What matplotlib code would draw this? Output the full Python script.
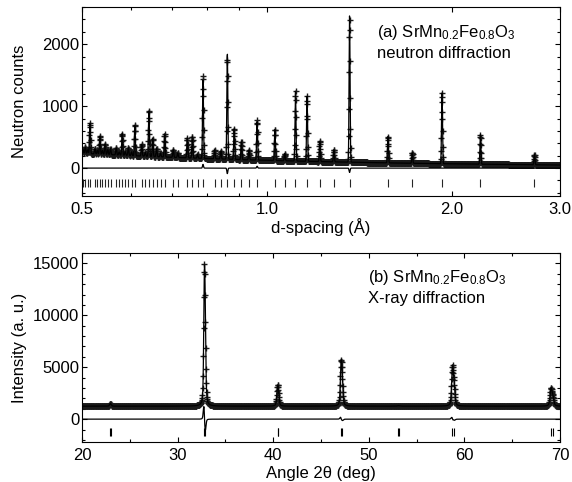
import numpy as np
import matplotlib
matplotlib.use('Agg')
import matplotlib.pyplot as plt
from matplotlib.ticker import FixedLocator, NullFormatter, MultipleLocator

plt.rcParams['font.family'] = ['Liberation Sans', 'DejaVu Sans']
plt.rcParams['mathtext.default'] = 'regular'
plt.rcParams['font.size'] = 12

# (a) neutron: reflection d-spacings (A) and peak heights above background
n_d = [2.7259, 2.2257, 1.9275, 1.7240, 1.5738, 1.3630, 1.2850, 1.2191, 1.1623, 1.1129,
       1.0692, 1.0303, 0.9638, 0.9350, 0.9086, 0.8844, 0.8620, 0.8412, 0.8219, 0.7869,
       0.7710, 0.7560, 0.7419, 0.7159, 0.7038, 0.6815, 0.6711, 0.6611, 0.6516, 0.6425,
       0.6338, 0.6254, 0.6095, 0.6020, 0.5948, 0.5879, 0.5812, 0.5747, 0.5684, 0.5564,
       0.5507, 0.5452, 0.5398, 0.5346, 0.5295, 0.5246, 0.5151, 0.5106, 0.5062, 0.5019]
n_h = [165, 475, 1145, 170, 425, 2365, 200, 330, 1050, 1130,
       115, 510, 620, 160, 290, 500, 1720, 130, 145, 1275,
       60, 350, 320, 70, 125, 370, 60, 130, 290, 740,
       60, 190, 500, 60, 125, 60, 350, 50, 115, 100,
       80, 170, 60, 295, 60, 80, 490, 60, 100, 60]
n_bg0, n_bg1 = 12, 114          # background = bg0 + bg1 / d
n_width = 0.0018                # peak sigma as fraction of d
n_miss_d = [0.7869, 0.8620, 1.3630, 0.9638]
n_miss_amp = [60, -90, -70, 30]
n_tick_y = -240

# (b) X-ray: K-alpha1 / K-alpha2 positions (deg 2theta), heights, widths
x_pos1 = [22.95, 32.80, 40.45, 47.10, 53.05, 58.75, 69.05]
x_pos2 = [23.01, 32.88, 40.55, 47.22, 53.19, 58.91, 69.25]
x_h = [180, 10500, 1620, 3750, 35, 3500, 1650]
x_fwhm = [0.18, 0.17, 0.19, 0.19, 0.20, 0.21, 0.23]
x_shift = [0, -0.012, 0, -0.006, 0, -0.007, 0]
ka2_ratio = 0.5
x_bg = 1250
x_tick_y = -1250


def pvoigt(x, x0, fwhm, eta=0.4):
    g = np.exp(-4 * np.log(2) * ((x - x0) / fwhm) ** 2)
    l = 1 / (1 + 4 * ((x - x0) / fwhm) ** 2)
    return eta * l + (1 - eta) * g


# neutron profile
d = np.geomspace(0.5, 3.0, 2240)
n_calc = n_bg0 + n_bg1 / d
for d0, h in zip(n_d, n_h):
    n_calc = n_calc + h * np.exp(-0.5 * ((d - d0) / (n_width * d0)) ** 2)
n_diff = np.zeros_like(d)
for d0, a in zip(n_miss_d, n_miss_amp):
    n_diff = n_diff + a * np.exp(-0.5 * ((d - d0) / (n_width * d0)) ** 2)
n_obs = n_calc + n_diff

# x-ray profile
tt = np.arange(20, 70.001, 0.03)
x_calc = np.full_like(tt, x_bg, dtype=float)
x_obs = np.full_like(tt, x_bg, dtype=float)
for p1, p2, h, w, s in zip(x_pos1, x_pos2, x_h, x_fwhm, x_shift):
    x_calc += h * pvoigt(tt, p1, w) + ka2_ratio * h * pvoigt(tt, p2, w)
    x_obs += h * pvoigt(tt, p1 + s, w) + ka2_ratio * h * pvoigt(tt, p2 + s, w)
x_diff = x_obs - x_calc

fig = plt.figure(figsize=(5.72, 4.82), dpi=100)
ax1 = fig.add_axes([0.1434, 0.5934, 0.8357, 0.3921])
ax2 = fig.add_axes([0.1434, 0.083, 0.8357, 0.3921])

# panel (a)
ax1.plot(d, n_obs, '+', color='0.1', ms=4.6, mew=1.0)
ax1.plot(d, n_calc, '-', color='k', lw=0.9)
ax1.plot(d, n_diff, '-', color='k', lw=0.9)
ax1.plot(n_d, [n_tick_y] * len(n_d), '|', color='0.15', ms=5.5, mew=0.8)
ax1.set_xscale('log')
ax1.set_xlim(0.5, 3.0)
ax1.set_ylim(-450, 2600)
ax1.xaxis.set_major_locator(FixedLocator([0.5, 1.0, 2.0, 3.0]))
ax1.xaxis.set_minor_locator(FixedLocator([0.6, 0.7, 0.8, 0.9]))
ax1.set_xticklabels(['0.5', '1.0', '2.0', '3.0'])
ax1.xaxis.set_minor_formatter(NullFormatter())
ax1.yaxis.set_major_locator(FixedLocator([0, 1000, 2000]))
ax1.yaxis.set_minor_locator(MultipleLocator(200))
ax1.set_xlabel('d-spacing (Å)')
ax1.set_ylabel('Neutron counts')
ax1.xaxis.set_label_coords(0.5, -0.116)
ax1.yaxis.set_label_coords(-0.115, 0.5)
ax1.text(0.617, 0.841, '(a) SrMn$_{0.2}$Fe$_{0.8}$O$_3$', transform=ax1.transAxes,
         ha='left', va='baseline')
ax1.text(0.617, 0.730, 'neutron diffraction', transform=ax1.transAxes,
         ha='left', va='baseline')

# panel (b)
ax2.plot(tt, x_obs, '+', color='0.1', ms=4.6, mew=1.0)
ax2.plot(tt, x_calc, '-', color='k', lw=0.9)
ax2.plot(tt, x_diff, '-', color='k', lw=0.9)
ax2.plot(x_pos1 + x_pos2, [x_tick_y] * (len(x_pos1) * 2), '|', color='k', ms=5.5, mew=0.8)
ax2.set_xlim(20, 70)
ax2.set_ylim(-2200, 16000)
ax2.xaxis.set_major_locator(MultipleLocator(10))
ax2.xaxis.set_minor_locator(MultipleLocator(5))
ax2.yaxis.set_major_locator(MultipleLocator(5000))
ax2.yaxis.set_minor_locator(MultipleLocator(1000))
ax2.set_xlabel('Angle 2θ (deg)')
ax2.set_ylabel('Intensity (a. u.)')
ax2.xaxis.set_label_coords(0.5, -0.127)
ax2.yaxis.set_label_coords(-0.115, 0.5)
ax2.text(0.598, 0.847, '(b) SrMn$_{0.2}$Fe$_{0.8}$O$_3$', transform=ax2.transAxes,
         ha='left', va='baseline')
ax2.text(0.598, 0.735, 'X-ray diffraction', transform=ax2.transAxes,
         ha='left', va='baseline')

for ax in (ax1, ax2):
    ax.tick_params(which='both', direction='in', top=True, right=True, width=0.8,
                   labelsize=12)
    ax.tick_params(which='major', length=3.6)
    ax.tick_params(which='minor', length=2.2)
    ax.tick_params(axis='y', pad=2)
    ax.tick_params(axis='x', pad=4)
    for sp in ax.spines.values():
        sp.set_linewidth(0.8)

fig.savefig('out.png', dpi=100)
